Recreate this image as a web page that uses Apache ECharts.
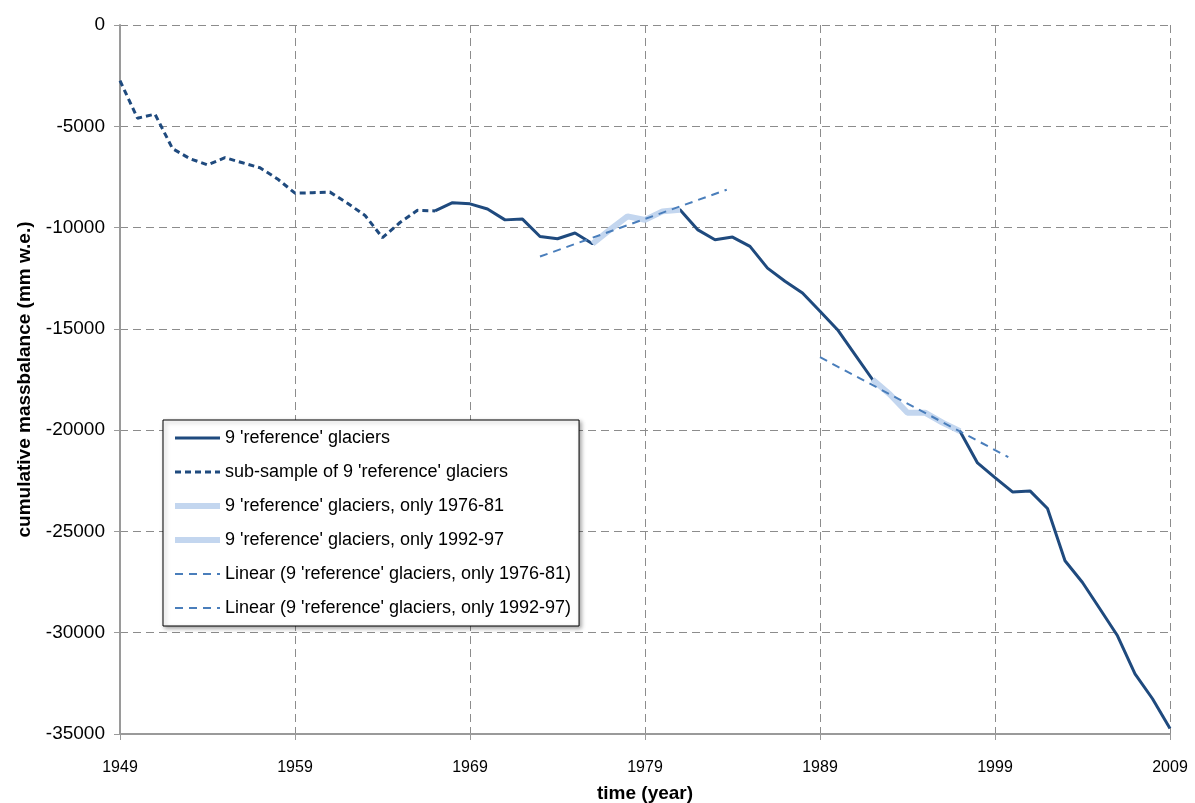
<!DOCTYPE html>
<html>
<head>
<meta charset="utf-8">
<script src="https://cdn.jsdelivr.net/npm/echarts@6/dist/echarts.min.js"></script>
<style>html,body{margin:0;padding:0;background:#fff}#c{width:1195px;height:803px}</style>
</head>
<body>
<div id="c"></div>
<script>
// ---- data ----
const subYears = [1949,1950,1951,1952,1953,1954,1955,1956,1957,1958,1959,1960,1961,1962,1963,1964,1965,1966,1967];
const subValues = [-2750,-4600,-4400,-6100,-6600,-6900,-6550,-6800,-7050,-7600,-8300,-8280,-8250,-8800,-9400,-10500,-9750,-9150,-9180];

const refYears = [1967,1968,1969,1970,1971,1972,1973,1974,1975,1976,1977,1978,1979,1980,1981,1982,1983,1984,1985,1986,1987,1988,1989,1990,1991,1992,1993,1994,1995,1996,1997,1998,1999,2000,2001,2002,2003,2004,2005,2006,2007,2008,2009];
const refValues = [-9180,-8770,-8830,-9080,-9620,-9580,-10440,-10550,-10270,-10800,-10100,-9450,-9620,-9200,-9120,-10100,-10600,-10470,-10930,-12000,-12650,-13230,-14130,-15040,-16270,-17500,-18240,-19140,-19140,-19630,-20050,-21620,-22340,-23050,-23000,-23870,-26450,-27520,-28830,-30150,-32030,-33260,-34730];

const p1Years = [1976,1977,1978,1979,1980,1981];
const p1Values = [-10800,-10100,-9450,-9620,-9200,-9120];
const p2Years = [1992,1993,1994,1995,1996,1997];
const p2Values = [-17500,-18240,-19140,-19140,-19630,-20050];

const trend1Years = [1973, 1983.67];
const trend1Values = [-11430, -8130];
const trend2Years = [1989, 1999.76];
const trend2Values = [-16400, -21330];

const seriesNames = [
  "9 'reference' glaciers",
  "sub-sample of 9 'reference' glaciers",
  "9 'reference' glaciers, only 1976-81",
  "9 'reference' glaciers, only 1992-97",
  "Linear (9 'reference' glaciers, only 1976-81)",
  "Linear (9 'reference' glaciers, only 1992-97)"
];
const xTitle = 'time (year)';
const yTitle = 'cumulative massbalance (mm w.e.)';

const pairs = (xs, ys) => xs.map((x, i) => [x, ys[i]]);

const DARK = '#1f4a7e', LIGHT = '#c3d6ef', TREND = '#4a7ebb';
const FONT = 'Liberation Sans';

const styles = [
  {color: DARK, width: 3, type: 'solid'},
  {color: DARK, width: 3, type: [6, 4]},
  {color: LIGHT, width: 6, type: 'solid'},
  {color: LIGHT, width: 6, type: 'solid'},
  {color: TREND, width: 2, type: [8, 6]},
  {color: TREND, width: 2, type: [8, 6]}
];

const chart = echarts.init(document.getElementById('c'), null, {renderer: 'canvas'});
chart.setOption({
  animation: false,
  backgroundColor: '#fff',
  grid: {left: 120, right: 25, top: 25, bottom: 69, containLabel: false, outerBoundsMode: 'none'},
  xAxis: {
    type: 'value', min: 1949, max: 2009, interval: 10,
    name: xTitle, nameLocation: 'middle', nameGap: 50,
    nameTextStyle: {fontFamily: FONT, fontSize: 19, fontWeight: 'bold', color: '#000'},
    axisLine: {show: true, onZero: false, lineStyle: {color: '#9a9a9a', width: 2}},
    axisTick: {show: true, length: 6, lineStyle: {color: '#9a9a9a'}},
    axisLabel: {fontFamily: FONT, fontSize: 16, color: '#000', margin: 26, formatter: v => String(v)},
    splitLine: {show: true, lineStyle: {color: '#8c8c8c', type: [8, 5], width: 1}}
  },
  yAxis: {
    type: 'value', min: -35000, max: 0, interval: 5000,
    name: yTitle, nameLocation: 'middle', nameGap: 86, nameRotate: 90,
    nameTextStyle: {fontFamily: FONT, fontSize: 19, fontWeight: 'bold', color: '#000'},
    axisLine: {show: true, onZero: false, lineStyle: {color: '#9a9a9a', width: 2}},
    axisTick: {show: true, length: 6, lineStyle: {color: '#9a9a9a'}},
    axisLabel: {fontFamily: FONT, fontSize: 19, color: '#000', margin: 15, formatter: v => String(v)},
    splitLine: {show: true, lineStyle: {color: '#8c8c8c', type: [8, 5], width: 1}}
  },
  legend: {
    orient: 'vertical', left: 163, top: 420,
    data: seriesNames.map((n, i) => ({name: n, lineStyle: styles[i]})),
    backgroundColor: '#fff', borderColor: '#000', borderWidth: 1,
    shadowColor: 'rgba(0,0,0,0.35)', shadowBlur: 4, shadowOffsetX: 2, shadowOffsetY: 2,
    padding: [9, 8, 9, 9],
    itemWidth: 45, itemHeight: 14, itemGap: 16,
    itemStyle: {opacity: 0},
    textStyle: {fontFamily: FONT, fontSize: 18, color: '#000'}
  },
  series: seriesNames.map((n, i) => ({
    name: n, type: 'line', symbol: 'none', z: [2, 2, 3, 3, 4, 4][i],
    data: [pairs(refYears, refValues), pairs(subYears, subValues), pairs(p1Years, p1Values),
           pairs(p2Years, p2Values), pairs(trend1Years, trend1Values), pairs(trend2Years, trend2Values)][i],
    lineStyle: styles[i], itemStyle: {color: styles[i].color}
  }))
});
</script>
</body>
</html>
